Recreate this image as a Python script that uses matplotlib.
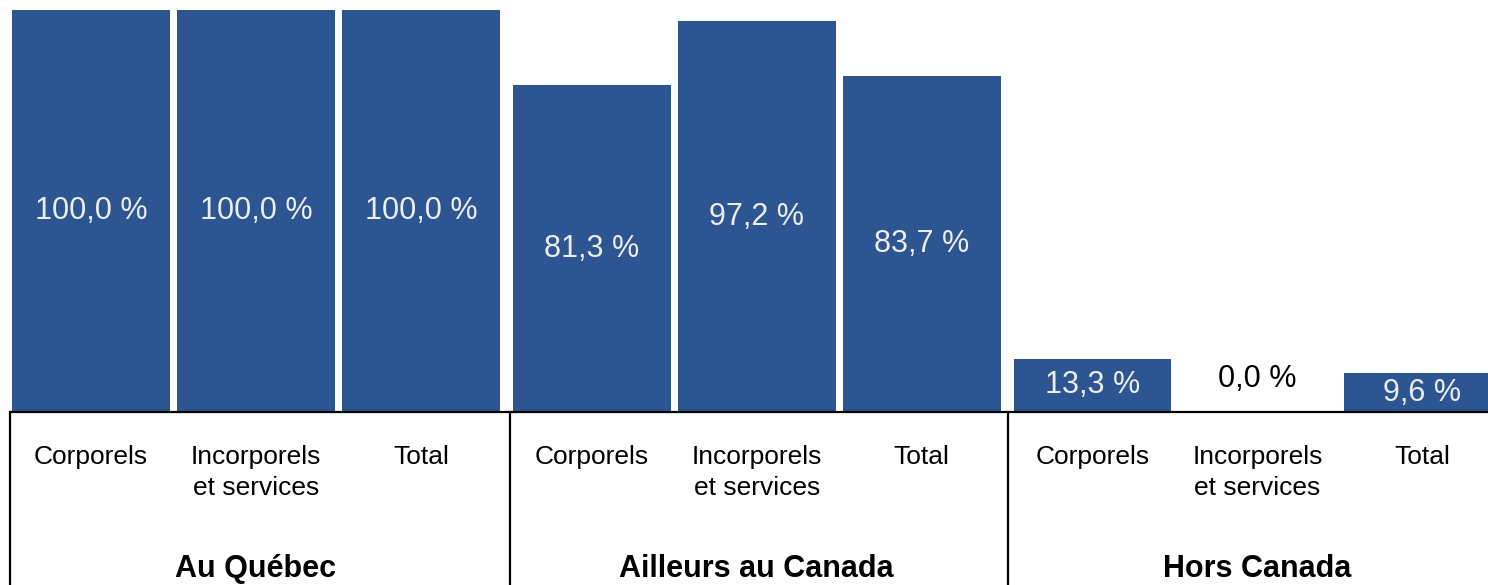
import matplotlib
matplotlib.use("Agg")
import matplotlib.pyplot as plt
from matplotlib import font_manager

# Data
groups = ["Au Québec", "Ailleurs au Canada", "Hors Canada"]
categories = ["Corporels", "Incorporels\net services", "Total"]
values = [
    [100.0, 100.0, 100.0],
    [81.3, 97.2, 83.7],
    [13.3, 0.0, 9.6],
]

available = {f.name for f in font_manager.fontManager.ttflist}
narrow = "Liberation Sans Narrow" if "Liberation Sans Narrow" in available else "Liberation Sans"

BAR_COLOR = "#2c5591"
GROUP_GAP = 0.035
BAR_WIDTH = 0.955

fig = plt.figure(figsize=(14.88, 5.85), dpi=100)
ax = fig.add_axes([0, 0, 1, 1])
ax.set_xlim(-0.5515, 8.467)
ax.set_ylim(-43.03, 102.49)
ax.axis("off")

positions = []
for g, grp in enumerate(groups):
    for c, cat in enumerate(categories):
        i = g * len(categories) + c
        x = i + g * GROUP_GAP
        positions.append(x)
        v = values[g][c]
        ax.bar(x, v, width=BAR_WIDTH, color=BAR_COLOR, zorder=2)
        label = f"{v:.1f}".replace(".", ",") + " %"
        if v > 0:
            ax.text(x, v / 2, label, ha="center", va="center",
                    fontsize=22, family=narrow, color="#ededed", zorder=3)
        else:
            ax.text(x, 8.3, label, ha="center", va="center",
                    fontsize=22, family=narrow, color="black", zorder=3)
        ax.text(x, -8.3, cat, ha="center", va="top", fontsize=19,
                family=narrow, color="black", linespacing=1.37)
    mid = positions[g * 3 + 1]
    ax.text(mid, -39.0, grp, ha="center", va="center", fontsize=22,
            family=narrow, fontweight="bold", color="black")

# Frame below the bars: baseline and group separators
left_edge = positions[0] - 0.49
ax.plot([left_edge, 8.6], [0, 0], color="black", lw=1.6, zorder=4,
        solid_capstyle="butt")
seps = [left_edge,
        (positions[2] + positions[3]) / 2 + 0.02,
        (positions[5] + positions[6]) / 2 + 0.005]
for s in seps:
    ax.plot([s, s], [0, -45], color="black", lw=1.6, zorder=4)

fig.savefig("out.png", dpi=100)
